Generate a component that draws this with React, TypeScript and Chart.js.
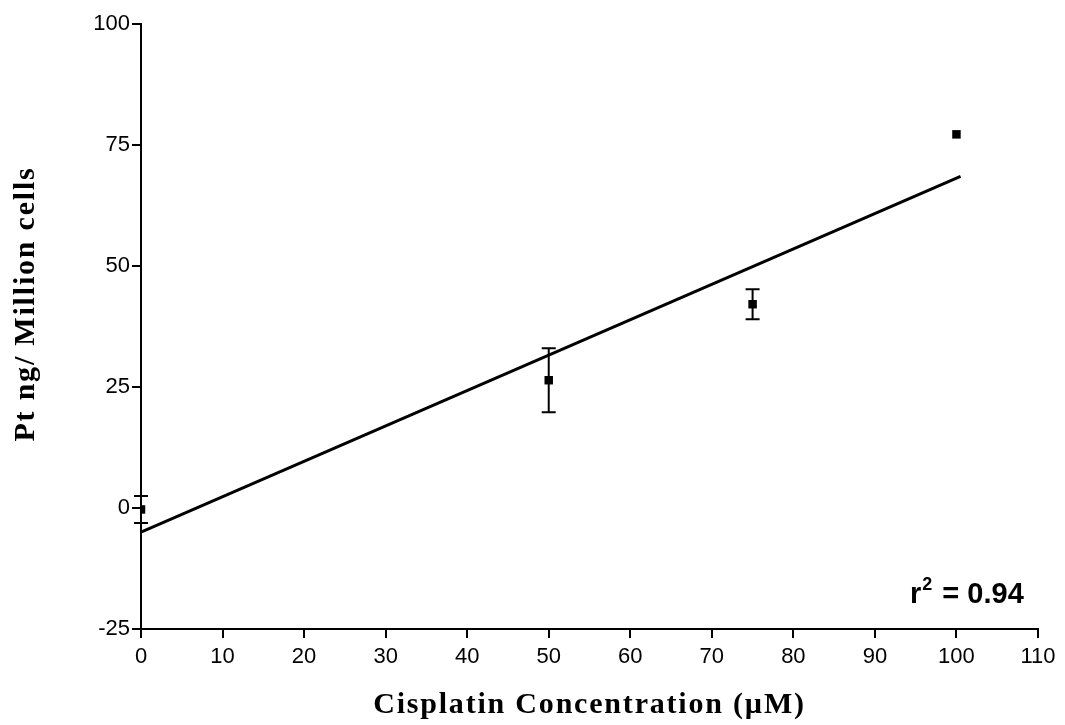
import React, { useEffect, useRef } from "react";
import { Chart, registerables } from "chart.js";
Chart.register(...registerables);

const concentrations = [0, 50, 75, 100];
const ptValues = [-0.3, 26.4, 42.1, 77.2];
const ptErrors = [2.8, 6.6, 3.1, 0];
const fitX = [0, 100.5];
const fitY = [-5, 68.5];
const xTicks = [0, 10, 20, 30, 40, 50, 60, 70, 80, 90, 100, 110];
const yTicks = [-25, 0, 25, 50, 75, 100];
const xTitle = "Cisplatin Concentration (\u00b5M)";
const yTitle = "Pt ng/ Million cells";
const r2Label = "0.94";

const SANS = "'Liberation Sans', Arial, sans-serif";
const SERIF = "'Liberation Serif', 'Times New Roman', serif";

const decorPlugin = {
  id: "decor",
  afterDatasetsDraw(chart: any) {
    const ctx = chart.ctx;
    const xs = chart.scales.x;
    const ys = chart.scales.y;
    ctx.save();
    // error bars
    ctx.strokeStyle = "#000";
    ctx.lineWidth = 2;
    concentrations.forEach((c, i) => {
      const e = ptErrors[i];
      if (!e) return;
      const px = xs.getPixelForValue(c);
      const top = ys.getPixelForValue(ptValues[i] + e);
      const bot = ys.getPixelForValue(ptValues[i] - e);
      ctx.beginPath();
      ctx.moveTo(px, top);
      ctx.lineTo(px, bot);
      ctx.moveTo(px - 7, top);
      ctx.lineTo(px + 7, top);
      ctx.moveTo(px - 7, bot);
      ctx.lineTo(px + 7, bot);
      ctx.stroke();
    });
    // r^2 label
    ctx.fillStyle = "#000";
    ctx.textBaseline = "alphabetic";
    ctx.textAlign = "left";
    ctx.font = `bold 29px ${SANS}`;
    const bx = 910;
    const by = 603;
    ctx.fillText("r", bx, by);
    const rw = ctx.measureText("r").width;
    ctx.font = `bold 18px ${SANS}`;
    ctx.fillText("2", bx + rw + 1, by - 13);
    const sw = ctx.measureText("2").width;
    ctx.font = `bold 29px ${SANS}`;
    ctx.fillText(" = " + r2Label, bx + rw + sw + 3, by);
    // axis titles
    ctx.font = `bold 30px ${SERIF}`;
    (ctx as any).letterSpacing = "1.8px";
    ctx.textAlign = "center";
    ctx.textBaseline = "middle";
    ctx.fillText(xTitle, (xs.left + xs.right) / 2, 705);
    ctx.save();
    ctx.translate(26, 304);
    ctx.rotate(-Math.PI / 2);
    ctx.fillText(yTitle, 0, 0);
    ctx.restore();
    ctx.restore();
  },
};

export default function App() {
  const ref = useRef<HTMLCanvasElement>(null);
  useEffect(() => {
    const chart = new Chart(ref.current!, {
      type: "scatter",
      data: {
        datasets: [
          {
            type: "line",
            data: fitX.map((x, i) => ({ x, y: fitY[i] })),
            borderColor: "#000",
            borderWidth: 3,
            pointRadius: 0,
            fill: false,
          } as any,
          {
            data: concentrations.map((x, i) => ({ x, y: ptValues[i] })),
            pointStyle: "rect",
            pointRadius: 6,
            backgroundColor: "#000",
            borderColor: "#000",
            borderWidth: 0,
          },
        ],
      },
      options: {
        responsive: false,
        animation: false,
        layout: { padding: { top: 24, right: 27, left: 0, bottom: 0 } },
        plugins: { legend: { display: false }, tooltip: { enabled: false } },
        scales: {
          x: {
            type: "linear",
            min: 0,
            max: 110,
            afterBuildTicks: (s: any) => {
              s.ticks = xTicks.map((v) => ({ value: v }));
            },
            afterFit: (s: any) => {
              s.height = 96;
            },
            grid: { display: true, drawOnChartArea: false, drawTicks: true, tickLength: 9, color: "#000", lineWidth: 2 },
            border: { display: true, color: "#000", width: 2 },
            ticks: { color: "#000", font: { family: SANS, size: 22 }, padding: 6, maxRotation: 0, autoSkip: false },
          },
          y: {
            type: "linear",
            min: -25,
            max: 100,
            afterBuildTicks: (s: any) => {
              s.ticks = yTicks.map((v) => ({ value: v }));
            },
            afterFit: (s: any) => {
              s.width = 141;
            },
            grid: { display: true, drawOnChartArea: false, drawTicks: true, tickLength: 9, color: "#000", lineWidth: 2 },
            border: { display: true, color: "#000", width: 2 },
            ticks: { color: "#000", font: { family: SANS, size: 22 }, padding: 2 },
          },
        },
      },
      plugins: [decorPlugin],
    });
    return () => chart.destroy();
  }, []);
  return (
    <div style={{ position: "fixed", left: 0, top: 0, width: 1065, height: 725, background: "#fff" }}>
      <canvas ref={ref} width={1065} height={725} />
    </div>
  );
}
